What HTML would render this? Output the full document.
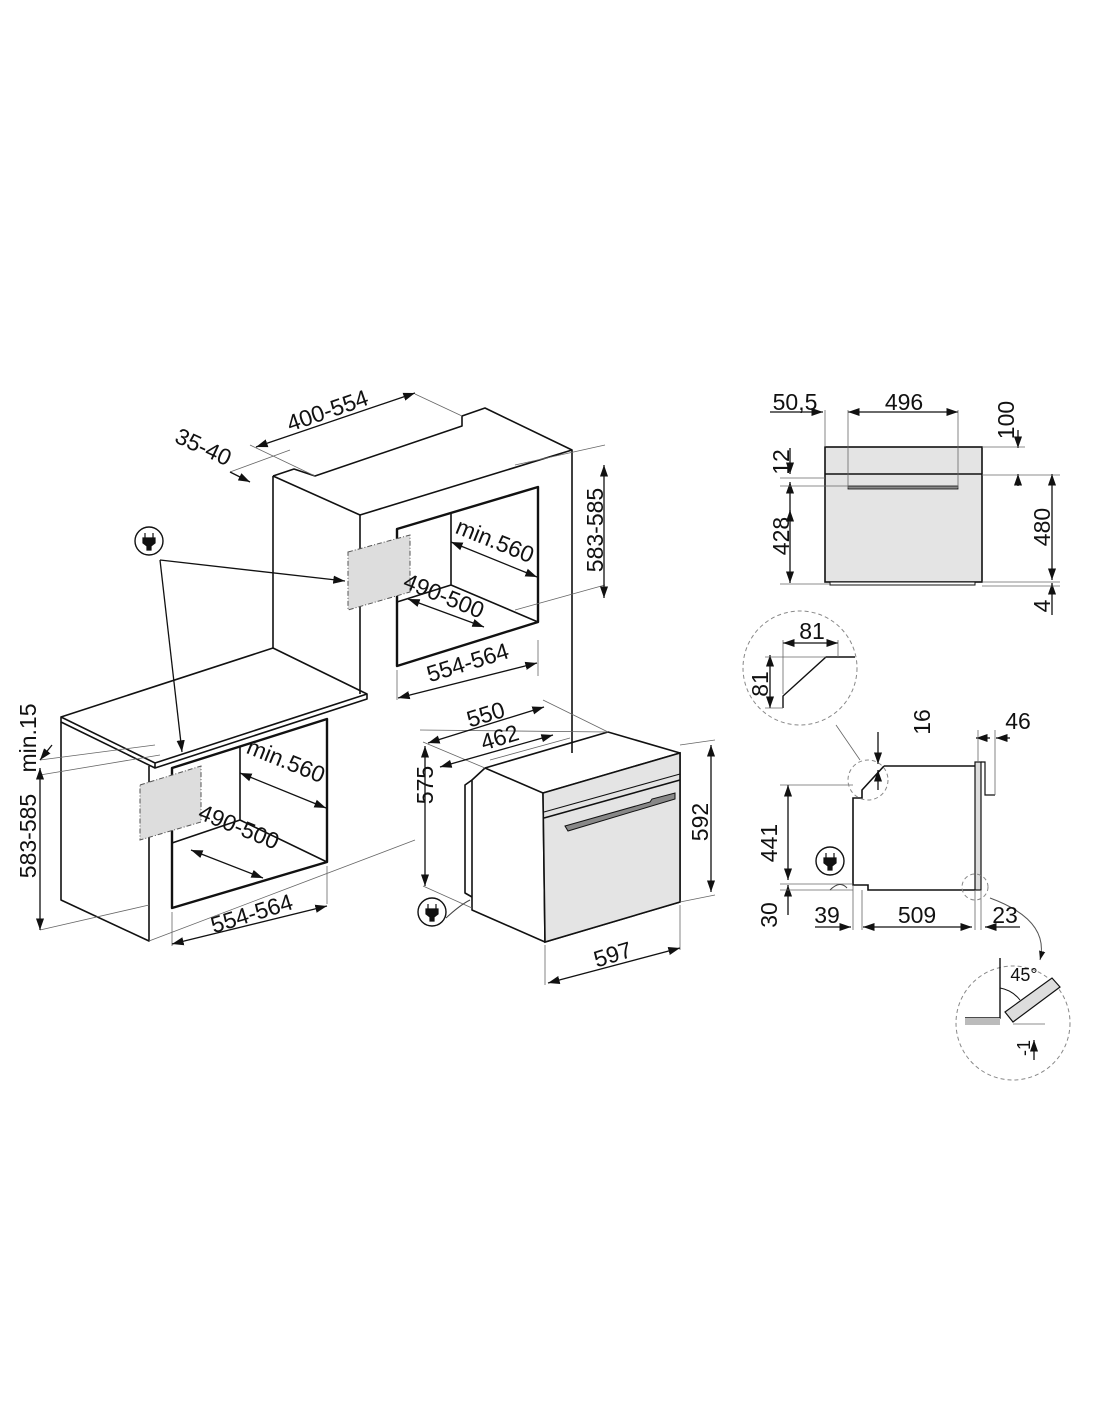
<!DOCTYPE html>
<html><head><meta charset="utf-8"><style>
html,body{margin:0;padding:0;background:#fff}
svg{display:block}
text{font-family:"Liberation Sans",Arial,sans-serif;font-size:23px;fill:#111}
</style></head><body>
<svg width="1100" height="1422" viewBox="0 0 1100 1422" xmlns="http://www.w3.org/2000/svg">
<defs>
<marker id="a" viewBox="0 0 10 10" refX="10" refY="5" markerWidth="9" markerHeight="9" orient="auto-start-reverse"><path d="M0,1.5 L10,5 L0,8.5 z" fill="#111"/></marker>
</defs>
<g fill="none" stroke="#111" stroke-width="1.6" stroke-linejoin="round">
<path d="M273,476 L294,469 L315,476 L462,426 L462,416 L485,408 L572,450 L572,753"/>
<path d="M273,476 L360,515 L572,450"/>
<path d="M273,476 L273,648"/>
<path d="M360,515 L360,694"/>
<path d="M61,717 L273,648 L367,694 L367,699 L155,768 L155,763 L61,717 L61,722 L155,768"/>
<path d="M155,763 L367,694"/>
<path d="M61,722 L61,900 L149,941 L149,766"/>
<path d="M397,529 L538,487 L538,622 L397,666 Z" stroke-width="2.4"/>
<path d="M451,514 L451,585 L538,622 M451,585 L397,602"/>
<path d="M172,768 L327,719 L327,862 L172,908 Z" stroke-width="2.4"/>
<path d="M240,747 L240,820 L327,862 M240,820 L172,843"/>
<path d="M485,768 L608,732 L680,753 L680,902 L545,942 L472,910 L472,780 Z"/>
<path d="M485,768 L543,793 L680,753 M543,793 L545,942"/>
<path d="M472,780 L465,785 L465,893 L472,897"/>
</g>
<path d="M543,793 L680,753 L680,902 L545,942 Z" fill="#e4e4e4" stroke="#111" stroke-width="1.6"/>
<path d="M544,818 L680,780" stroke="#111" stroke-width="1.6"/>
<path d="M544,812 L680,774" stroke="#111" stroke-width="1"/>
<path d="M565,826 L650,802 L652,799 L675,793 L675,799 L568,831 Z" fill="#888" stroke="#111" stroke-width="1"/>
<path d="M348,552 L410,535 L410,592 L348,610 Z" fill="#ddd" stroke="#555" stroke-dasharray="5,2,1,2"/>
<path d="M140,785 L201,766 L201,822 L140,840 Z" fill="#ddd" stroke="#555" stroke-dasharray="5,2,1,2"/>
<g stroke="#666" stroke-width="0.8" fill="none">
<path d="M250,445 L315,476 M230,472 L290,450 M415,394 L462,416 M515,465 L605,445 M515,610 L605,585 M397,670 L397,700 M538,640 L538,676 M420,730 L608,732 M543,700 L608,732 M423,742 L485,768 M490,760 L570,738 M40,760 L155,745 M40,775 L160,755 M40,930 L149,905 M172,912 L172,946 M327,866 L327,904 M149,941 L415,840 M423,886 L472,908 M680,745 L715,740 M680,902 L715,895 M545,945 L545,985 M680,905 L680,950"/>
</g>
<g stroke="#111" stroke-width="1.3" fill="none" marker-start="url(#a)" marker-end="url(#a)">
<line x1="256" y1="447" x2="415" y2="393"/>
<line x1="604" y1="465" x2="604" y2="598"/>
<line x1="451" y1="542" x2="537" y2="577"/>
<line x1="408" y1="599" x2="484" y2="627"/>
<line x1="398" y1="698" x2="537" y2="663"/>
<line x1="240" y1="773" x2="326" y2="808"/>
<line x1="191" y1="850" x2="263" y2="878"/>
<line x1="172" y1="944" x2="327" y2="906"/>
<line x1="40" y1="768" x2="40" y2="930"/>
<line x1="428" y1="743" x2="544" y2="707"/>
<line x1="440" y1="767" x2="553" y2="735"/>
<line x1="425" y1="746" x2="425" y2="886"/>
<line x1="711" y1="745" x2="711" y2="892"/>
<line x1="548" y1="983" x2="680" y2="948"/>
<line x1="848" y1="412" x2="958" y2="412"/>
<line x1="790" y1="510" x2="790" y2="583"/>
<line x1="1052" y1="474" x2="1052" y2="580"/>
<line x1="788" y1="785" x2="788" y2="880"/>
<line x1="863" y1="927" x2="972" y2="927"/>
<line x1="770" y1="655" x2="770" y2="708"/>
<line x1="783" y1="643" x2="838" y2="643"/>
</g>
<g stroke="#111" stroke-width="1.3" marker-end="url(#a)">
<line x1="230" y1="472" x2="250" y2="482"/>
<line x1="52" y1="745" x2="40" y2="760"/>
<line x1="770" y1="412" x2="823" y2="412"/>
<line x1="1018" y1="430" x2="1018" y2="448"/>
<line x1="1018" y1="486" x2="1018" y2="474"/>
<line x1="790" y1="448" x2="790" y2="474"/>
<line x1="790" y1="520" x2="790" y2="482"/>
<line x1="1052" y1="615" x2="1052" y2="583"/>
<line x1="878" y1="732" x2="878" y2="764"/>
<line x1="878" y1="790" x2="878" y2="770"/>
<line x1="990" y1="738" x2="976" y2="738"/>
<line x1="1010" y1="738" x2="996" y2="738"/>
<line x1="815" y1="927" x2="851" y2="927"/>
<line x1="1020" y1="927" x2="985" y2="927"/>
<line x1="788" y1="915" x2="788" y2="885"/>
<line x1="1034" y1="1060" x2="1034" y2="1040"/>
<line x1="160" y1="560" x2="182" y2="752"/>
<line x1="160" y1="560" x2="345" y2="581"/>
</g>
<rect x="825" y="447" width="157" height="135" fill="#e4e4e4" stroke="#111" stroke-width="1.6"/>
<line x1="825" y1="474" x2="982" y2="474" stroke="#111" stroke-width="1.6"/>
<rect x="848" y="486" width="110" height="3" fill="#888" stroke="#111" stroke-width="0.8"/>
<rect x="830" y="582" width="145" height="3" fill="#fff" stroke="#111" stroke-width="1"/>
<g stroke="#666" stroke-width="0.8">
<line x1="825" y1="410" x2="825" y2="447"/><line x1="848" y1="410" x2="848" y2="488"/><line x1="958" y1="410" x2="958" y2="488"/>
<line x1="982" y1="447" x2="1025" y2="447"/><line x1="982" y1="475" x2="1060" y2="475"/><line x1="780" y1="478" x2="825" y2="478"/><line x1="780" y1="486" x2="848" y2="486"/>
<line x1="780" y1="584" x2="830" y2="584"/><line x1="982" y1="582" x2="1060" y2="582"/><line x1="982" y1="586" x2="1060" y2="586"/>
</g>
<path d="M884,766 L975,766 M975,890 L868,890 L868,885 L853,885 L853,798 L862,798 L862,790 L884,766" fill="none" stroke="#111" stroke-width="1.6"/>
<rect x="975" y="762" width="6" height="128" fill="#ddd" stroke="#111" stroke-width="1.2"/>
<path d="M981,762 L985,762 L985,795 L995,795" fill="none" stroke="#111" stroke-width="1.2"/>
<g stroke="#666" stroke-width="0.8" fill="none">
<line x1="780" y1="785" x2="853" y2="785"/><line x1="780" y1="884" x2="853" y2="884"/><line x1="780" y1="890" x2="853" y2="890"/>
<line x1="853" y1="885" x2="853" y2="930"/><line x1="862" y1="890" x2="862" y2="930"/><line x1="975" y1="890" x2="975" y2="930"/><line x1="981" y1="890" x2="981" y2="930"/>
<line x1="978" y1="730" x2="978" y2="762"/><line x1="995" y1="730" x2="995" y2="795"/>
<line x1="836" y1="725" x2="860" y2="760"/>
</g>
<path d="M830,890 Q840,880 847,888" fill="none" stroke="#444"/>
<g fill="none" stroke="#888" stroke-width="1" stroke-dasharray="4,3">
<circle cx="868" cy="780" r="20"/><circle cx="975" cy="887" r="13"/>
<circle cx="800" cy="668" r="57"/><circle cx="1013" cy="1023" r="57"/>
</g>
<path d="M990,898 Q1050,920 1040,960" fill="none" stroke="#555" marker-end="url(#a)"/>
<path d="M783,708 L783,696 L826,657 L855,657" fill="none" stroke="#111" stroke-width="1.4"/>
<g stroke="#666" stroke-width="0.8"><line x1="783" y1="640" x2="783" y2="694"/><line x1="838" y1="640" x2="838" y2="657"/><line x1="765" y1="657" x2="826" y2="657"/><line x1="765" y1="708" x2="783" y2="708"/></g>
<path d="M1000,958 L1000,1018 L965,1018" fill="none" stroke="#111" stroke-width="1.4"/>
<rect x="965" y="1018" width="35" height="7" fill="#bbb"/>
<path d="M1005,1012 L1052,978 L1060,987 L1013,1022 Z" fill="#ddd" stroke="#111" stroke-width="1.2"/>
<path d="M1000,988 Q1012,990 1020,1000" fill="none" stroke="#111"/>
<line x1="1013" y1="1024" x2="1045" y2="1024" stroke="#666" stroke-width="0.8"/>
<g>
<circle cx="149" cy="541" r="14" fill="#fff" stroke="#111" stroke-width="1.4"/>
<path d="M145,533v5M153,533v5M143,538h12v5l-4,3v4h-4v-4l-4,-3z" fill="#111" stroke="#111" stroke-width="1.2"/>
<circle cx="432" cy="912" r="14" fill="#fff" stroke="#111" stroke-width="1.4"/>
<path d="M428,904v5M436,904v5M426,909h12v5l-4,3v4h-4v-4l-4,-3z" fill="#111" stroke="#111" stroke-width="1.2"/>
<circle cx="830" cy="861" r="14" fill="#fff" stroke="#111" stroke-width="1.4"/>
<path d="M826,853v5M834,853v5M824,858h12v5l-4,3v4h-4v-4l-4,-3z" fill="#111" stroke="#111" stroke-width="1.2"/>
</g>
<path d="M446,918 Q460,905 470,900" fill="none" stroke="#444"/>
<text transform="translate(330,418) rotate(-19)" text-anchor="middle">400-554</text>
<text transform="translate(200,454) rotate(25)" text-anchor="middle">35-40</text>
<text transform="translate(603,530) rotate(-90)" text-anchor="middle">583-585</text>
<text transform="translate(492,548) rotate(22)" text-anchor="middle">min.560</text>
<text transform="translate(441,603) rotate(22)" text-anchor="middle">490-500</text>
<text transform="translate(470,670) rotate(-17)" text-anchor="middle">554-564</text>
<text transform="translate(36,738) rotate(-90)" text-anchor="middle">min.15</text>
<text transform="translate(36,836) rotate(-90)" text-anchor="middle">583-585</text>
<text transform="translate(283,768) rotate(22)" text-anchor="middle">min.560</text>
<text transform="translate(236,834) rotate(22)" text-anchor="middle">490-500</text>
<text transform="translate(254,921) rotate(-17)" text-anchor="middle">554-564</text>
<text transform="translate(488,722) rotate(-17)" text-anchor="middle">550</text>
<text transform="translate(502,745) rotate(-17)" text-anchor="middle">462</text>
<text transform="translate(433,785) rotate(-90)" text-anchor="middle">575</text>
<text transform="translate(708,822) rotate(-90)" text-anchor="middle">592</text>
<text transform="translate(615,962) rotate(-17)" text-anchor="middle">597</text>
<text x="795" y="410" text-anchor="middle">50,5</text>
<text x="904" y="410" text-anchor="middle">496</text>
<text transform="translate(1014,420) rotate(-90)" text-anchor="middle">100</text>
<text transform="translate(789,462) rotate(-90)" text-anchor="middle">12</text>
<text transform="translate(789,536) rotate(-90)" text-anchor="middle">428</text>
<text transform="translate(1050,527) rotate(-90)" text-anchor="middle">480</text>
<text transform="translate(1050,606) rotate(-90)" text-anchor="middle">4</text>
<text x="812" y="639" text-anchor="middle">81</text>
<text transform="translate(768,684) rotate(-90)" text-anchor="middle">81</text>
<text transform="translate(930,722) rotate(-90)" text-anchor="middle">16</text>
<text x="1018" y="729" text-anchor="middle">46</text>
<text transform="translate(777,843) rotate(-90)" text-anchor="middle">441</text>
<text transform="translate(777,915) rotate(-90)" text-anchor="middle">30</text>
<text x="827" y="923" text-anchor="middle">39</text>
<text x="917" y="923" text-anchor="middle">509</text>
<text x="1005" y="923" text-anchor="middle">23</text>
<text x="1024" y="981" text-anchor="middle" style="font-size:18px">45°</text>
<text transform="translate(1030,1048) rotate(-90)" text-anchor="middle" style="font-size:18px">-1</text>
</svg>
</body></html>
